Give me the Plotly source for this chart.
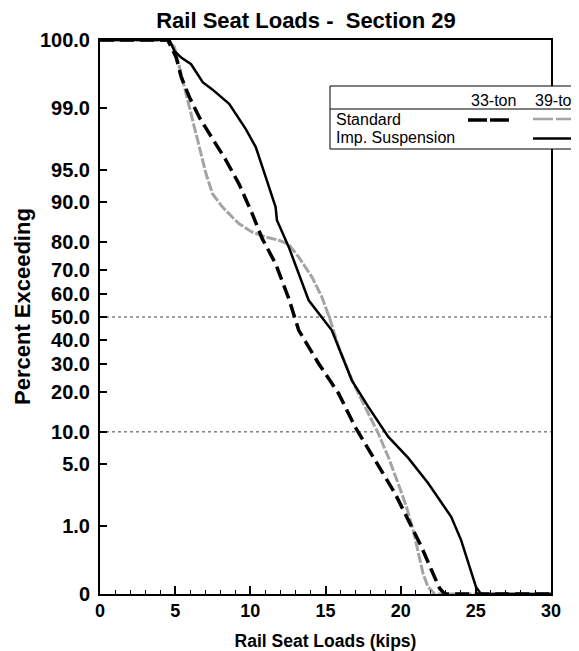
import plotly.graph_objects as go
from statistics import NormalDist

# ---------------- data ----------------
loads_std33 = [0, 4.5, 4.74, 5.07, 5.40, 5.95, 6.61, 7.49, 8.37, 9.25, 10.13, 10.79,
               11.68, 12.56, 13.22, 14.54, 15.87, 16.97, 18.29, 19.62, 20.50, 21.38,
               22.04, 22.59, 22.92, 30]
pct_std33 = [99.9, 99.9, 99.87, 99.81, 99.63, 99.29, 98.7, 97.7, 96.0, 93.1, 87.5, 80.9,
             72.4, 58.1, 44.1, 30.2, 19.7, 11.0, 5.5, 2.46, 1.18, 0.52,
             0.24, 0.124, 0.1, 0.1]

loads_std39 = [0, 4.49, 4.95, 5.17, 5.40, 5.73, 6.16, 6.61, 7.05, 7.49, 8.15, 8.81, 9.25,
               10.13, 11.02, 11.90, 12.56, 13.22, 14.10, 14.76, 15.32, 15.87, 16.42,
               16.86, 18.51, 19.17, 19.83, 20.38, 20.83, 21.16, 21.49, 21.82, 22.26, 30]
pct_std39 = [99.9, 99.9, 99.87, 99.79, 99.67, 99.36, 98.6, 97.1, 94.5, 91.5, 89.0, 86.7, 85.1,
             82.8, 81.4, 80.4, 79.1, 74.8, 67.2, 58.8, 48.6, 36.9, 28.9,
             22.9, 9.7, 5.95, 3.17, 1.72, 0.875, 0.42, 0.21, 0.13, 0.1, 0.1]

loads_imp39 = [0, 4.62, 4.95, 5.40, 6.06, 6.83, 7.49, 8.59, 9.70, 10.36, 11.02, 11.68,
               11.77, 12.56, 13.88, 15.42, 16.75, 17.85, 19.17, 20.50, 21.82, 23.36,
               24.02, 24.58, 25.01, 25.34, 30]
pct_imp39 = [99.9, 99.9, 99.85, 99.81, 99.76, 99.56, 99.44, 99.13, 98.2, 97.1, 94.1, 89.0,
             86.0, 78.2, 57.4, 44.1, 24.0, 15.8, 9.1, 5.8, 3.2, 1.29,
             0.64, 0.27, 0.13, 0.1, 0.1]

y_tick_pcts = [99.9, 99.0, 95.0, 90.0, 80.0, 70.0, 60.0, 50.0, 40.0, 30.0, 20.0, 10.0, 5.0, 1.0, 0.1]
y_tick_text = ["100.0", "99.0", "95.0", "90.0", "80.0", "70.0", "60.0", "50.0", "40.0",
               "30.0", "20.0", "10.0", "5.0", "1.0", "0"]
x_tick_vals = [0, 5, 10, 15, 20, 25, 30]
grid_pcts = [50, 10]

title_text = "Rail Seat Loads -  Section 29"
x_title = "Rail Seat Loads (kips)"
y_title = "Percent Exceeding"
legend_cols = ["33-ton", "39-ton"]
legend_rows = ["Standard", "Imp. Suspension"]

# ---------------- probability scale ----------------
nd = NormalDist()
def prob(p):
    return nd.inv_cdf(p / 100.0)

FONT = "Liberation Sans, Arial, sans-serif"
OFF = 8                      # page body margin
PAGE_W, PAGE_H = 579, 651
W, H = PAGE_W - OFF, PAGE_H - OFF
# plot area in page pixels
PL, PR, PT, PB = 100, 551, 40, 594
L, R, T, B = PL - OFF, W - (PR - OFF), PT - OFF, H - (PB - OFF)
PW, PH = PR - PL, PB - PT

def px(xp):           # page x pixel -> paper
    return (xp - PL) / PW

def py(yp):           # page y pixel -> paper
    return (PB - yp) / PH

fig = go.Figure()

fig.add_trace(go.Scatter(x=loads_std39, y=[prob(v) for v in pct_std39], mode="lines",
                         line=dict(color="#a4a4a4", width=3, dash="10px,2px"),
                         name="Standard 39-ton"))
fig.add_trace(go.Scatter(x=loads_std33, y=[prob(v) for v in pct_std33], mode="lines",
                         line=dict(color="black", width=3.5, dash="14px,6px"),
                         name="Standard 33-ton"))
fig.add_trace(go.Scatter(x=loads_imp39, y=[prob(v) for v in pct_imp39], mode="lines",
                         line=dict(color="black", width=2.5),
                         name="Imp. Suspension 39-ton"))

shapes = []
for g in grid_pcts:
    shapes.append(dict(type="line", xref="x", yref="y", x0=0, x1=30, y0=prob(g), y1=prob(g),
                       line=dict(color="#444", width=1, dash="dot"), layer="below"))

# legend table
shapes.append(dict(type="rect", xref="paper", yref="paper", x0=px(330), x1=px(600),
                   y0=py(149), y1=py(86), fillcolor="white", line=dict(color="black", width=1)))
shapes.append(dict(type="line", xref="paper", yref="paper", x0=px(330), x1=px(600),
                   y0=py(109), y1=py(109), line=dict(color="black", width=1)))
shapes.append(dict(type="line", xref="paper", yref="paper", x0=px(468), x1=px(511),
                   y0=py(120), y1=py(120), line=dict(color="black", width=3.5, dash="19px,3px")))
shapes.append(dict(type="line", xref="paper", yref="paper", x0=px(533), x1=px(578),
                   y0=py(119), y1=py(119), line=dict(color="#a4a4a4", width=2.5, dash="20px,3px")))
shapes.append(dict(type="line", xref="paper", yref="paper", x0=px(533), x1=px(578),
                   y0=py(138.5), y1=py(138.5), line=dict(color="black", width=2.5)))

annotations = []
lf = dict(family=FONT, size=16, color="black")
annotations.append(dict(text=legend_cols[0], xref="paper", yref="paper", x=px(469), y=py(100.5),
                        xanchor="left", yanchor="middle", showarrow=False, font=lf))
annotations.append(dict(text=legend_cols[1], xref="paper", yref="paper", x=px(533), y=py(100.5),
                        xanchor="left", yanchor="middle", showarrow=False, font=lf))
annotations.append(dict(text=legend_rows[0], xref="paper", yref="paper", x=px(334), y=py(119),
                        xanchor="left", yanchor="middle", showarrow=False, font=lf))
annotations.append(dict(text=legend_rows[1], xref="paper", yref="paper", x=px(334), y=py(138),
                        xanchor="left", yanchor="middle", showarrow=False, font=lf))
# y-axis title
annotations.append(dict(text="<b>" + y_title + "</b>", xref="paper", yref="paper",
                        x=px(22), y=py(307), xanchor="center", yanchor="middle", textangle=-90,
                        showarrow=False, font=dict(family=FONT, size=22, color="black")))

fig.update_layout(
    width=W, height=H, autosize=False,
    margin=dict(l=L, r=R, t=T, b=B, pad=0),
    paper_bgcolor="white", plot_bgcolor="white",
    showlegend=False,
    title=dict(text="<b>" + title_text + "</b>", x=(306 - OFF) / W, xref="container", xanchor="center",
               y=1 - 4.5 / H, yref="container", yanchor="top",
               font=dict(family=FONT, size=22, color="black")),
    shapes=shapes, annotations=annotations,
    font=dict(family=FONT, color="black"),
)

fig.update_xaxes(
    range=[0, 30], tickvals=x_tick_vals, ticks="inside", ticklen=8, tickwidth=1.5,
    tickcolor="black", showgrid=False, zeroline=False, automargin=False,
    showline=True, linewidth=1.5, linecolor="black", mirror=True,
    tickfont=dict(family=FONT, size=18, color="black", weight="bold"),
    minor=dict(dtick=1, ticks="inside", ticklen=4, tickwidth=1.2, tickcolor="black", showgrid=False),
    title=dict(text="<b>" + x_title + "</b>", font=dict(family=FONT, size=17.5, color="black"), standoff=18),
)
fig.update_yaxes(
    range=[prob(0.1), prob(99.9)], tickvals=[prob(v) for v in y_tick_pcts], ticktext=y_tick_text,
    ticks="inside", ticklen=7, tickwidth=1.5, tickcolor="black", showgrid=False, zeroline=False,
    automargin=False,
    showline=True, linewidth=2, linecolor="black", mirror=True,
    ticklabelstandoff=4,
    tickfont=dict(family=FONT, size=20, color="black", weight="bold"),
)

fig.write_html("out.html")
